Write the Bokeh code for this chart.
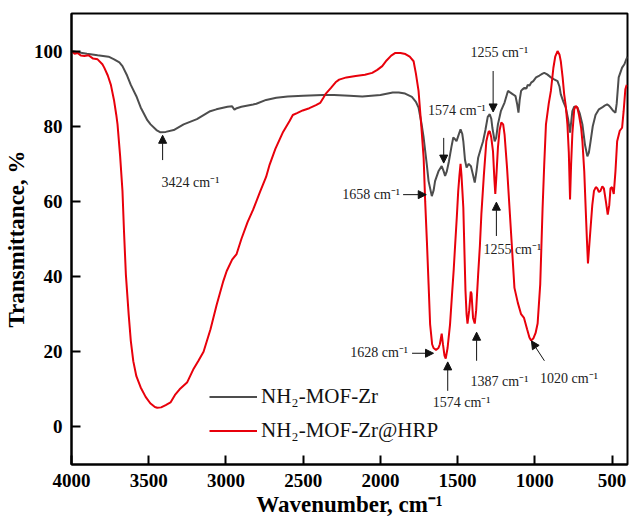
import numpy as np
from bokeh.plotting import figure
from bokeh.models import Range1d, FixedTicker, Arrow, NormalHead, ColumnDataSource, Legend, LegendItem
from bokeh.core.properties import value
from bokeh.embed import file_html
from bokeh.resources import INLINE

# ---------------- data ----------------
mof_wn = [4000, 3950, 3900, 3831, 3760, 3724, 3690, 3670, 3640, 3616, 3580, 3552, 3509, 3488, 3450, 3424,
          3390, 3338, 3274, 3188, 3102, 3062, 2990, 2960, 2945, 2930, 2900, 2824, 2803, 2740, 2674, 2600,
          2500, 2374, 2300, 2200, 2117, 2000, 1920, 1881, 1840, 1796, 1770, 1753, 1735, 1720, 1700, 1688,
          1667, 1655, 1646, 1624, 1603, 1590, 1581, 1570, 1556, 1540, 1528, 1515, 1507, 1495, 1481, 1470,
          1463, 1452, 1442, 1428, 1414, 1400, 1389, 1378, 1367, 1350, 1335, 1320, 1305, 1292, 1282, 1275,
          1260, 1250, 1239, 1220, 1196, 1174, 1160, 1142, 1125, 1115, 1106, 1098, 1089, 1080, 1067, 1055,
          1046, 1035, 1024, 1010, 992, 970, 950, 939, 920, 896, 875, 853, 840, 832, 815, 800, 785, 772,
          765, 757, 745, 725, 710, 692, 675, 660, 650, 639, 625, 607, 585, 564, 548, 532, 520, 510, 495,
          478, 470, 457, 435, 420, 408, 400]
mof_t = [100, 99.6, 99.3, 98.9, 98.5, 97.8, 97, 96, 93.5, 91, 88, 85, 81.6, 80.5, 79, 78.4,
         78.5, 79, 80.5, 81.9, 84, 84.5, 85.2, 85.3, 84.4, 84.8, 85.2, 85.8, 86, 87, 87.6, 87.9,
         88.1, 88.3, 88.3, 88.1, 87.9, 88.3, 89, 89, 88.7, 87.8, 86.5, 85, 81, 77, 70, 65.4,
         61.4, 63, 65.4, 68, 69.4, 68, 66.8, 68, 70.7, 74.5, 77, 76.5, 76, 77.5, 79.2, 78,
         76, 71, 69, 70, 69.4, 67, 65, 68, 71.6, 74, 76, 79, 82.5, 83.2, 82, 79.6,
         76, 77, 80.5, 84, 86.3, 89.4, 89, 88.5, 88, 86, 83.6, 87, 89.4, 89.8, 90.2, 90,
         91, 90.8, 91.6, 92, 93, 93.5, 94, 94.2, 93.8, 93, 92.5, 92, 90.5, 88.5, 86.5, 85, 82, 78.3,
         81, 84, 85.2, 85, 83.5, 80.5, 75, 72, 73, 76, 80, 83, 84.5, 85, 85.5, 85.8, 85.5, 85, 84.2,
         83.6, 86, 93, 95.6, 96.5, 97.8, 98.5]

hrp_wn = [4000, 3980, 3960, 3940, 3916, 3890, 3860, 3831, 3800, 3788, 3765, 3745, 3725, 3710, 3702, 3685,
          3670, 3660, 3648, 3630, 3616, 3600, 3580, 3552, 3520, 3490, 3460, 3445, 3420, 3390, 3359, 3330,
          3300, 3252, 3209, 3180, 3145, 3100, 3060, 3017, 2995, 2960, 2931, 2900, 2860, 2824, 2780, 2740,
          2717, 2680, 2630, 2588, 2567, 2540, 2503, 2460, 2417, 2390, 2370, 2353, 2320, 2290, 2267, 2220,
          2160, 2100, 2053, 2020, 1988, 1960, 1930, 1903, 1870, 1838, 1810, 1785, 1770, 1753, 1735, 1720,
          1710, 1699, 1688, 1678, 1665, 1656, 1640, 1624, 1615, 1603, 1595, 1585, 1577, 1565, 1549, 1535,
          1525, 1517, 1505, 1496, 1488, 1481, 1475, 1468, 1463, 1456, 1449, 1442, 1436, 1425, 1415, 1410,
          1400, 1389, 1380, 1367, 1356, 1346, 1330, 1314, 1300, 1292, 1282, 1271, 1262, 1256, 1250, 1239,
          1228, 1217, 1205, 1196, 1180, 1164, 1150, 1132, 1110, 1089, 1070, 1050, 1035, 1024, 1010, 995,
          982, 965, 950, 939, 928, 910, 896, 880, 868, 853, 840, 832, 820, 810, 800, 789, 780, 772,
          765, 757, 745, 735, 725, 714, 700, 692, 680, 671, 663, 656, 648, 639, 628, 617, 605, 596,
          585, 575, 563, 553, 540, 528, 518, 510, 500, 489, 478, 467, 450, 435, 425, 414, 405]
hrp_t = [100, 99.3, 99.5, 98.8, 98.7, 98.9, 98, 97.8, 96.5, 95.6, 93.5, 91, 87, 83, 80.5, 72,
         62.8, 52, 40.6, 30, 22.9, 17.5, 13.5, 10.5, 8, 6.3, 5.3, 5.1, 5.2, 5.8, 6.5, 8.5,
         10, 11.8, 15.5, 17.5, 20, 26, 32.5, 38.8, 41.5, 44.5, 46, 50, 54.5, 57.8, 62.5, 66.5,
         69.8, 74, 78.5, 81.4, 83, 83.5, 84.2, 84.8, 85.6, 86.2, 87.5, 88.7, 90.2, 91.7, 92.4, 93,
         93.4, 93.7, 94.2, 95, 96, 97.5, 98.8, 99.5, 99.5, 99.2, 98.5, 97.3, 94, 89.4, 80, 71.6,
         60, 49.5, 38, 27.3, 22, 21, 20.5, 21, 22, 24.8, 22, 19, 18.2, 21, 27.3, 36,
         42, 47.7, 56, 62.8, 67, 70, 67, 62, 58.3, 47, 36.2, 30, 27.5, 31, 36, 35.5,
         29, 27.5, 31, 40.6, 48, 56.7, 67, 76, 78.5, 78.7, 77, 73.4, 66, 62, 66, 74.3,
         79, 81, 80.5, 77.8, 69, 58.3, 49, 37, 33, 30, 29, 26, 23.8, 23, 23.5, 25,
         27.5, 38, 58, 70, 80.5, 86, 89.4, 95.5, 98.5, 100, 99, 97.3, 93, 88.5, 85.5, 80.5, 73, 60.5,
         70, 78, 84.5, 85.4, 85, 83, 79.5, 76, 68, 58.3, 50, 43.5, 48, 53, 59, 62.8, 63.8, 63.5,
         62.5, 62.8, 64, 63.5, 60, 56.5, 59, 63.5, 63.8, 62, 68, 76, 78.8, 79.6, 84, 89.8, 91]

series_names = ["NH\u2082-MOF-Zr", "NH\u2082-MOF-Zr@HRP"]
x_ticks = [4000, 3500, 3000, 2500, 2000, 1500, 1000, 500]
y_ticks = [0, 20, 40, 60, 80, 100]

# annotation texts (label, text x, text y) and arrows (x_start, y_start, x_end, y_end)
ann_center = dict(x=[3230, 1505, 1230, 1146, 1474, 1229, 779],
                  y=[65, 84.3, 99.5, 47.3, 6.4, 12.2, 13],
                  text=["3424 cm\u207b\u00b9", "1574 cm\u207b\u00b9", "1255 cm\u207b\u00b9", "1255 cm\u207b\u00b9",
                        "1574 cm\u207b\u00b9", "1387 cm\u207b\u00b9", "1020 cm\u207b\u00b9"])
ann_right = dict(x=[1873, 1821], y=[61.8, 19.7],
                 text=["1658 cm\u207b\u00b9", "1628 cm\u207b\u00b9"])
arrows = [
    (3410, 71.0, 3410, 77.6),
    (1590, 76.9, 1590, 70.2),
    (1270, 94.7, 1270, 83.8),
    (1249, 50.8, 1249, 59.8),
    (1853, 61.8, 1703, 61.8),
    (1795, 19.6, 1656, 19.6),
    (1564, 9.6, 1564, 17.3),
    (1377, 17.6, 1377, 25.2),
    (938, 17.6, 1022, 22.9),
]

FONT = "Liberation Serif"
GREY = "#4d4d4d"
RED = "#e8000b"

p = figure(width=629, height=522, output_backend="svg", toolbar_location=None,
           x_range=Range1d(4000, 400), y_range=Range1d(-10, 110),
           min_border_left=67, min_border_right=2, min_border_top=13, min_border_bottom=58)
p.background_fill_color = "white"
p.border_fill_color = "white"
p.outline_line_color = "black"
p.outline_line_width = 2
p.grid.visible = False

for ax in (p.xaxis[0], p.yaxis[0]):
    ax.axis_line_width = 2
    ax.axis_line_color = "black"
    ax.major_tick_line_width = 2
    ax.major_tick_in = 9
    ax.major_tick_out = 0
    ax.minor_tick_line_color = None
    ax.major_label_text_font = FONT
    ax.major_label_text_font_style = "bold"
    ax.major_label_text_font_size = "19px"
    ax.major_label_text_color = "black"
    ax.major_label_standoff = 9
    ax.axis_label_text_font = FONT
    ax.axis_label_text_font_style = "bold"
    ax.axis_label_text_font_size = "23px"
    ax.axis_label_text_color = "black"
    ax.axis_label_standoff = 2

p.xaxis[0].ticker = FixedTicker(ticks=x_ticks)
p.yaxis[0].ticker = FixedTicker(ticks=y_ticks)
p.xaxis[0].axis_label = "Wavenumber, cm\u207b\u00b9"
p.yaxis[0].axis_label = "Transmittance, %"

r1 = p.line(mof_wn, mof_t, line_color=GREY, line_width=2)
r2 = p.line(hrp_wn, hrp_t, line_color=RED, line_width=2)

src_c = ColumnDataSource(ann_center)
p.text("x", "y", "text", source=src_c, text_font=value(FONT), text_font_size="14px",
       text_color="#222222", text_align="center", text_baseline="middle")
src_r = ColumnDataSource(ann_right)
p.text("x", "y", "text", source=src_r, text_font=value(FONT), text_font_size="14px",
       text_color="#222222", text_align="right", text_baseline="middle")

for (xs, ys, xe, ye) in arrows:
    p.add_layout(Arrow(x_start=xs, y_start=ys, x_end=xe, y_end=ye, line_color="#111111", line_width=1,
                       end=NormalHead(size=8, fill_color="#111111", line_color="#111111")))

legend = Legend(items=[LegendItem(label=series_names[0], renderers=[r1]),
                       LegendItem(label=series_names[1], renderers=[r2])],
                location=(138, 21), padding=0, margin=0, spacing=9,
                glyph_width=48, glyph_height=21, label_height=21, label_standoff=4,
                label_text_font=FONT, label_text_font_size="21px", label_text_color="#111111",
                background_fill_alpha=0, border_line_alpha=0)
p.add_layout(legend)

open("out.html", "w").write(file_html(p, INLINE))
